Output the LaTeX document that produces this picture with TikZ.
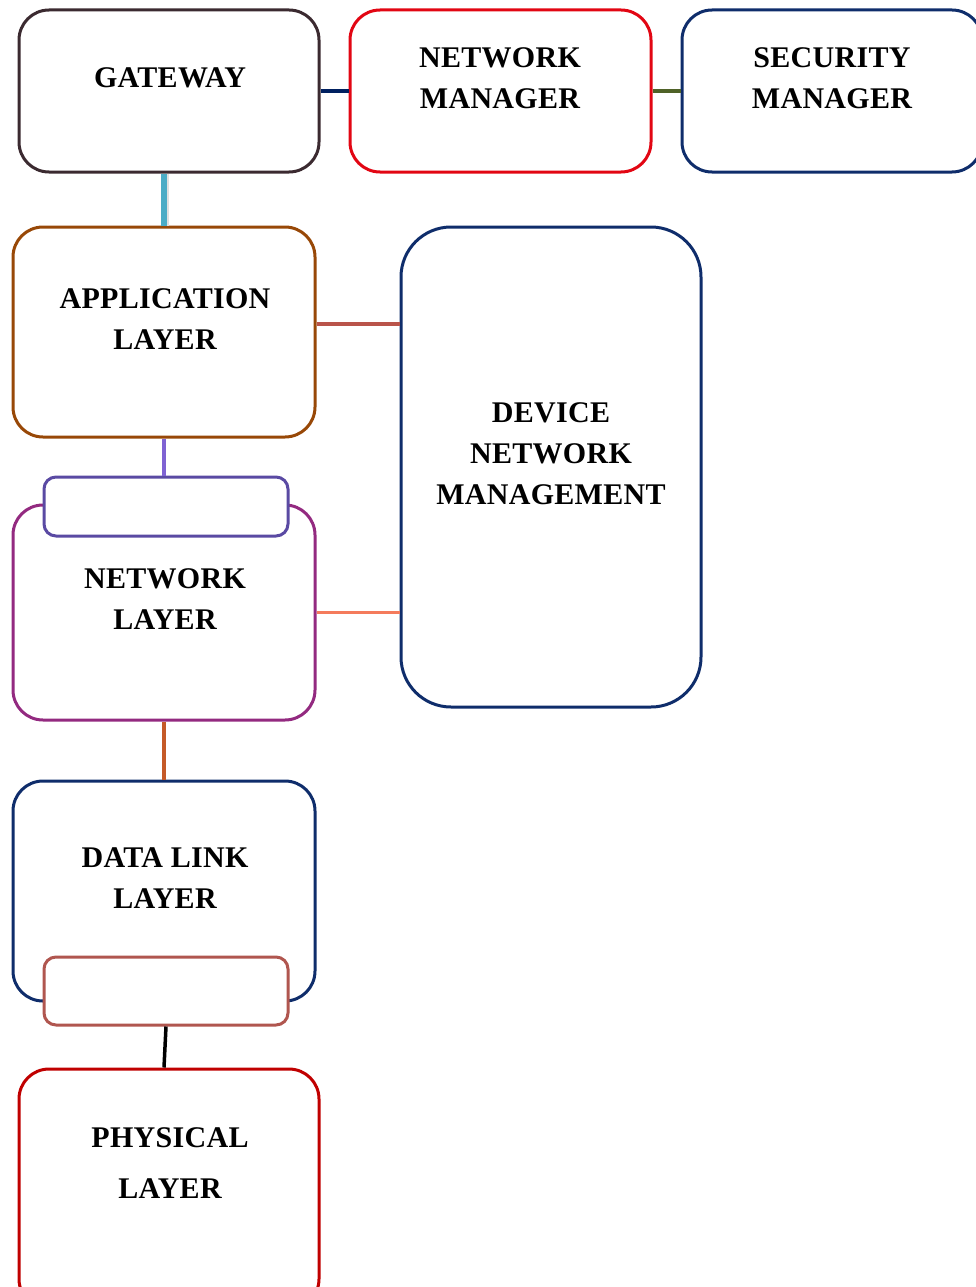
\documentclass[tikz,border=0pt]{standalone}
\usepackage{fontspec}
\setmainfont{Liberation Serif}
\begin{document}
\begin{tikzpicture}[x=1pt,y=-1pt,
  box/.style={draw,rectangle,rounded corners=30pt,line width=3pt,fill=white,inner sep=0pt},
  tab/.style={draw,rectangle,rounded corners=12pt,line width=3pt,fill=white,inner sep=0pt},
  lbl/.style={align=center,font=\fontsize{30}{41}\selectfont\bfseries\addfontfeature{LetterSpace=1},inner sep=0pt},
  wire/.style={line width=3.5pt}]
\definecolor{gwc}{HTML}{3B2A30}
\definecolor{nmc}{HTML}{E20613}
\definecolor{navy}{HTML}{0F2D6B}
\definecolor{linknavy}{HTML}{002060}
\definecolor{olive}{HTML}{4F6228}
\definecolor{teal}{HTML}{4BACC6}
\definecolor{appc}{HTML}{984807}
\definecolor{rust}{HTML}{B9544A}
\definecolor{violet}{HTML}{7F63D3}
\definecolor{tabtop}{HTML}{5A4AA3}
\definecolor{nlc}{HTML}{932A80}
\definecolor{salmon}{HTML}{F47B5C}
\definecolor{burnt}{HTML}{C55A28}
\definecolor{tabbot}{HTML}{B0564F}
\definecolor{phyc}{HTML}{C00000}

\useasboundingbox (0,0) rectangle (975,1287);

% top row
\node[box,draw=gwc,minimum width=300pt,minimum height=162pt] (gw) at (169,91) {};
\node[box,draw=nmc,minimum width=301pt,minimum height=162pt] (nm) at (500.5,91) {};
\node[box,draw=navy,minimum width=300pt,minimum height=162pt] (sm) at (832,91) {};

% protocol stack and management block
\node[box,draw=appc,minimum width=302pt,minimum height=210pt] (app) at (164,332) {};
\node[box,draw=navy,rounded corners=50pt,minimum width=300pt,minimum height=480pt] (dnm) at (551,467) {};
\node[box,draw=nlc,minimum width=302pt,minimum height=215pt] (nl) at (164,612.5) {};
\node[tab,draw=tabtop,minimum width=244pt,minimum height=59pt] (nettop) at (166,506.5) {};
\node[box,draw=navy,minimum width=302pt,minimum height=220pt] (dll) at (164,891) {};
\node[tab,draw=tabbot,minimum width=244pt,minimum height=68pt] (dlbot) at (166,991) {};
\node[box,draw=phyc,minimum width=300pt,minimum height=240pt] (phy) at (169,1189) {};

% labels
\node[lbl] (gwt) at (170,78) {GATEWAY};
\node[lbl] (nmt) at (500,78) {NETWORK\\MANAGER};
\node[lbl] (smt) at (832,78) {SECURITY\\MANAGER};
\node[lbl] (appt) at (165,319) {APPLICATION\\LAYER};
\node[lbl] (dnmt) at (551,454) {DEVICE\\NETWORK\\MANAGEMENT};
\node[lbl] (nlt) at (165,599.5) {NETWORK\\LAYER};
\node[lbl] (dllt) at (165,878.5) {DATA LINK\\LAYER};
\node[lbl,font=\fontsize{30}{51}\selectfont\bfseries\addfontfeature{LetterSpace=1}] (phyt) at (170,1163) {PHYSICAL\\LAYER};

% connectors
\draw[wire,draw=linknavy] (gw.east) -- (nm.west);
\draw[wire,draw=olive,line width=4pt] (nm.east) -- (sm.west);
\draw[line width=8pt,draw=black!12] ([xshift=1pt]app.north) -- ([xshift=1pt]app.north |- gw.south);
\draw[line width=6pt,draw=teal] (app.north) -- (app.north |- gw.south);
\draw[wire,draw=rust,line width=4pt] ([yshift=8pt]app.east) -- ([yshift=8pt]app.east -| dnm.west);
\draw[wire,draw=violet,line width=4pt] (app.south) -- (app.south |- nettop.north);
\draw[wire,draw=salmon] (nl.east) -- (nl.east -| dnm.west);
\draw[wire,draw=burnt] (nl.south) -- (dll.north);
\draw[wire,draw=black] (dlbot.south) -- ([xshift=-2pt]dlbot.south |- phy.north);
\end{tikzpicture}
\end{document}
